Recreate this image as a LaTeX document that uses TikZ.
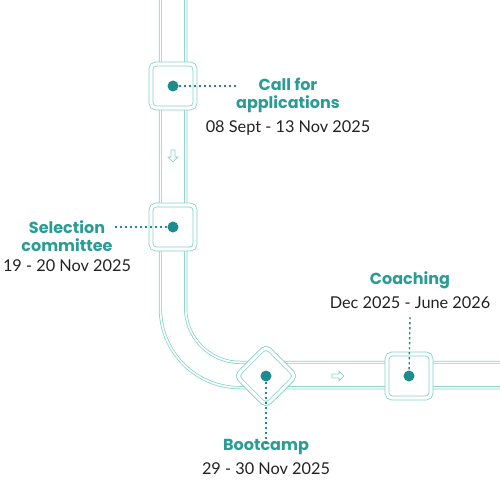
\documentclass[tikz,border=0pt]{standalone}
\usepackage{fontspec}
\setmainfont{Lato}
\newfontfamily\headfont{Poppins}
\usetikzlibrary{positioning,shapes.arrows}

\definecolor{pipeteal}{RGB}{128,210,200}
\definecolor{dotteal}{RGB}{30,140,140}
\definecolor{headteal}{RGB}{42,156,150}
\definecolor{datetext}{RGB}{34,34,34}

\begin{document}
\begin{tikzpicture}[
  x=1pt, y=-1pt,
  every node/.style={align=center, inner sep=0pt},
  box/.style   ={rectangle, rounded corners=5pt, draw=pipeteal, line width=0.8pt,
                 double=white, double distance=3.2pt, fill=white, minimum size=44pt},
  dot/.style   ={circle, fill=dotteal, minimum size=11pt},
  head/.style  ={font=\headfont\bfseries\fontsize{16}{18}\selectfont, text=headteal},
  date/.style  ={font=\fontsize{16.3}{18}\selectfont, text=datetext},
  leader/.style={draw=dotteal, line width=1.4pt, dash pattern=on 2.2pt off 2.8pt},
  flow/.style  ={single arrow, draw=pipeteal, line width=0.7pt, fill=white,
                 minimum height=12pt, single arrow head extend=3pt, inner sep=1.6pt},
]
\useasboundingbox (0,0) rectangle (500,500);

% --- Pipe (two walls, each a double line) ---
\draw[pipeteal, line width=28.5pt, rounded corners=67pt] (173,-20) -- (173,375) -- (520,375);
\draw[white,    line width=27pt,   rounded corners=67pt] (173,-20) -- (173,375) -- (520,375);
\draw[pipeteal, line width=23.5pt, rounded corners=67pt] (173,-20) -- (173,375) -- (520,375);
\draw[white,    line width=22pt,   rounded corners=67pt] (173,-20) -- (173,375) -- (520,375);

% --- Flow arrows ---
\node[flow, shape border rotate=270] (down)  at (173,155) {};
\node[flow]                          (right) at (337,376) {};

% --- Stations ---
\node[box] (call)  at (173,86)  {};
\node[box] (sel)   at (173,227) {};
\node[box, rotate=45, minimum size=42pt] (boot) at (266,376) {};
\node[box] (coach) at (409,376) {};

\node[dot] (d1) at (call)  {};
\node[dot] (d2) at (sel)   {};
\node[dot] (d3) at (boot)  {};
\node[dot] (d4) at (coach) {};

% --- Labels ---
\node[head] (callhead) at (288,95) {Call for\\applications};
\node[date, below=8pt of callhead] (calldate) {08 Sept - 13 Nov 2025};

\node[head] (selhead) at (67,236) {Selection\\committee};
\node[date, below=8pt of selhead] (seldate) {19 - 20 Nov 2025};

\node[head] (coachhead) at (410,280) {Coaching};
\node[date, below=8pt of coachhead] (coachdate) {Dec 2025 - June 2026};

\node[head] (boothead) at (266,447) {Bootcamp};
\node[date, below=8pt of boothead] (bootdate) {29 - 30 Nov 2025};

% --- Leaders ---
\draw[leader] (d1) -- (d1 -| callhead.west);
\draw[leader] (d2 -| selhead.east) ++(2,0) -- (d2);
\draw[leader] (coachdate.south) ++(0,8) -- (d4);
\draw[leader] (d3) -- ([yshift=-6pt]boothead.north);

\end{tikzpicture}
\end{document}
